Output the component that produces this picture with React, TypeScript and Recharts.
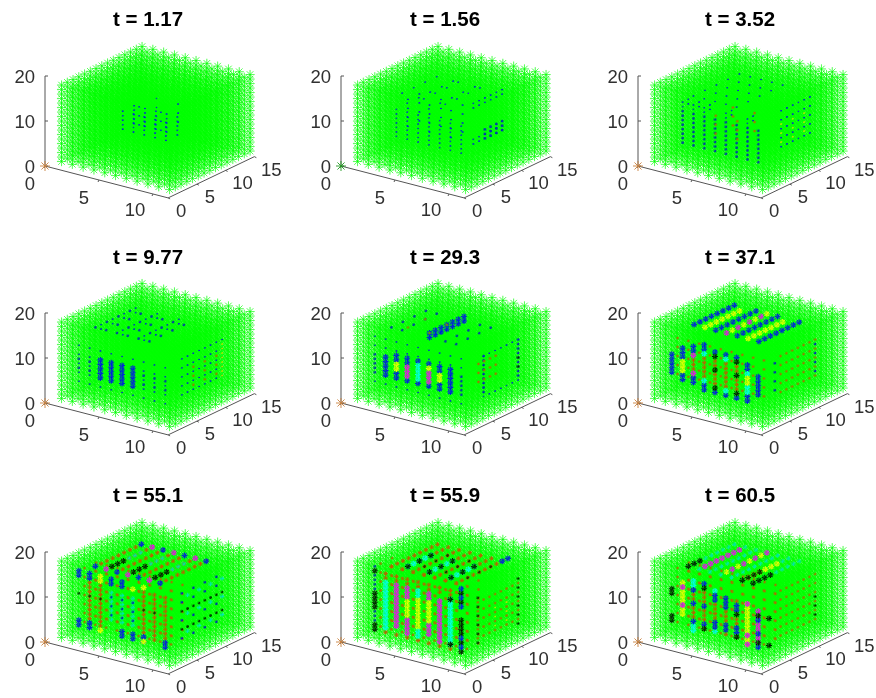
import React from 'react';
import { ScatterChart, Scatter, XAxis, YAxis, ReferenceLine } from 'recharts';

// lattice of the simulated volume
const xGrid = [1, 2, 3, 4, 5, 6, 7, 8, 9, 10, 11];
const yGrid = [1, 2, 3, 4, 5, 6, 7, 8, 9, 10, 11, 12, 13, 14, 15];
const zGrid = [1, 2, 3, 4, 5, 6, 7, 8, 9, 10, 11, 12, 13, 14, 15, 16, 17, 18];

const xTicks = [0, 5, 10];
const yTicks = [0, 5, 10, 15];
const zTicks = [0, 10, 20];
const xEnd = 11.4;
const yEnd = 15;
const zEnd = 20;

const times = ['1.17', '1.56', '3.52', '9.77', '29.3', '37.1', '55.1', '55.9', '60.5'];

// value classes of a lattice node
const FAINT = 0, BLUE = 1, YEL = 2, MAG = 3, CYAN = 4, BLACK = 5, RED = 6, SMALL = 7, FAINTY = 8, GREEN = 9, HAZE = 10, SBLACK = 11, SCYAN = 12;

type Block = [number[], number[], number[], number];

const t1: Block[] = [
  [[4, 5, 6, 7, 8], [6, 8], [7, 8, 9, 10, 11], FAINT],
  [[5, 7], [7, 10], [8, 10, 12], FAINT],
];
const t2: Block[] = [
  [[3, 4, 5, 6, 7, 8, 9], [4], [6, 7, 8, 9, 10, 11, 12], FAINT],
  [[3, 5, 7], [6, 8], [7, 9, 11, 13], FAINT],
  [[4, 6], [4, 6, 8, 10, 12], [14], FAINT],
  [[3, 5, 7], [5, 7, 9, 11], [15], FAINT],
  [[8], [8, 9, 10, 11, 12, 13], [5, 6, 13, 14], FAINT],
  [[8], [10, 11, 12, 13], [5, 6, 7], SMALL],
];
const t3: Block[] = [
  [[2, 3, 4, 5, 6, 7, 8, 9], [4], [4, 5, 6, 7, 8, 9, 10, 11], SMALL],
  [[2, 3, 4, 6, 8], [4, 5], [12, 13], FAINT],
  [[3, 4, 5, 6, 7], [4, 6, 8, 10, 12], [15], FAINT],
  [[9], [8, 9, 10, 11, 12, 13], [5, 7, 9, 11, 13], FAINT],
  [[9], [8, 10, 12], [6, 8, 10], FAINTY],
  [[4, 6], [6, 9], [6, 8, 10], HAZE],
];
const t4: Block[] = [
  [[1, 2, 3, 4, 5, 6, 7, 8, 9], [4], [3, 5, 7, 9, 11], FAINT],
  [[1, 2, 3, 7, 8, 9], [4], [6, 8], SMALL],
  [[3, 4, 5, 6], [4], [5, 6, 7, 8, 9], BLUE],
  [[2, 3, 4, 5, 6, 7], [5, 7, 9, 11], [15], SMALL],
  [[2, 4, 6], [6, 8, 10, 12], [15, 14], FAINT],
  [[10], [5, 6, 7, 8, 9, 10, 11, 12], [5, 7, 9, 11, 13], FAINT],
  [[10], [7, 9, 11], [6, 8, 10], HAZE],
  [[10], [12], [5, 6, 7, 8, 9, 10, 11, 12], FAINTY],
];
const t5: Block[] = [
  [[1, 2, 3, 4, 5, 6, 7, 8, 9], [4], [3, 11, 13], FAINT],
  [[1, 9], [4], [5, 6, 7, 8, 9], SMALL],
  [[2], [4], [5, 6, 7, 8, 9], BLUE],
  [[3], [4], [5, 6, 9, 10], BLUE],
  [[3], [4], [7, 8], YEL],
  [[4], [4], [5, 9, 10], BLUE],
  [[4], [4], [6, 7, 8], MAG],
  [[5], [4], [5, 10], BLUE],
  [[5], [4], [6, 7, 8, 9], CYAN],
  [[6], [4], [5, 10], BLUE],
  [[6], [4], [6, 7, 8], MAG],
  [[6], [4], [9], YEL],
  [[7], [4], [5, 6, 9, 10], BLUE],
  [[7], [4], [7, 8], YEL],
  [[8], [4], [5, 6, 7, 8, 9, 10], BLUE],
  [[5], [6, 7, 8, 9, 10, 11, 12], [15, 14], BLUE],
  [[2, 3, 7, 8], [5, 7, 9, 11], [15], SMALL],
  [[3, 5], [6, 9], [15], HAZE],
  [[10], [6, 12], [5, 6, 7, 8, 9, 10, 11, 12, 13], SMALL],
  [[10], [6, 7, 8, 9, 10, 11, 12], [4, 13], FAINT],
  [[10], [12], [7, 9], SBLACK],
  [[9], [7, 8, 9, 10], [6, 8, 10], HAZE],
];
const t6: Block[] = [
  [[10], [6, 7, 8, 9, 10, 11, 12], [5, 7, 9, 11, 13], HAZE],
  [[10], [5, 12], [6, 8, 10, 12], SMALL],
  [[1, 2, 3, 4, 5, 6, 7, 8, 9], [5], [4, 6, 8, 10, 12], HAZE],
  [[3, 4, 5, 6, 7], [4], [5, 6, 7, 8, 9, 10], RED],
  [[1], [4], [5, 6, 7, 8, 9], BLUE],
  [[2], [4], [4, 5, 9, 10, 11], BLUE],
  [[2], [4], [6, 7, 8], YEL],
  [[3], [4], [4, 5, 11, 12], BLUE],
  [[3], [4], [6, 10], MAG],
  [[4], [4], [3, 4, 12, 13], BLUE],
  [[4], [4], [5, 11], CYAN],
  [[5], [4], [3, 12], BLUE],
  [[5], [4], [4, 8, 11], BLACK],
  [[6], [4], [3, 12], BLUE],
  [[6], [4], [4, 11], CYAN],
  [[7], [4], [3, 12], BLUE],
  [[7], [4], [4, 8, 11], BLACK],
  [[8], [4], [3, 4, 10, 11], BLUE],
  [[8], [4], [5, 6, 9], CYAN],
  [[8], [4], [7, 8], YEL],
  [[9], [4], [5, 6, 7, 8, 9], BLUE],
  [[2, 4, 6, 8], [6, 7, 8, 9, 10, 11, 12, 13], [15], BLUE],
  [[3, 7], [6, 7, 8, 9, 10, 11, 12], [15], YEL],
  [[5], [6, 8, 10, 12], [15], MAG],
  [[5], [7, 9, 11, 13], [15], YEL],
];
const t7: Block[] = [
  [[1, 2, 3, 4, 5, 6, 7, 8, 9], [5, 7], [2, 4, 6, 8, 10, 12, 14], HAZE],
  [[10], [5, 6, 7, 8, 9, 10, 11, 12], [6, 10], SBLACK],
  [[10], [5, 7, 9, 11], [4, 8, 12, 14], SMALL],
  [[10], [6, 8, 10, 12], [5, 9, 13], SCYAN],
  [[2, 3, 7, 8, 9], [4], [3, 4, 5, 6, 7, 8, 9, 10, 11, 12, 13], RED],
  [[4, 5, 6], [4], [5, 6, 7, 8, 9, 10, 11], SCYAN],
  [[4, 5, 6], [4], [6, 8, 10], SMALL],
  [[1, 2, 5, 6, 7, 9], [4], [2, 3], BLUE],
  [[1, 2, 4, 5], [4], [13, 14], BLUE],
  [[1, 2, 3, 7, 8], [4], [9], SBLACK],
  [[3, 7], [4], [2, 14], YEL],
  [[2, 3, 4, 5, 6, 7, 8], [5, 6, 7, 8, 9, 10, 11, 12, 13], [15], RED],
  [[3, 5, 7], [6, 7, 8], [15], BLACK],
  [[3, 5, 7], [9, 10, 11], [15], SCYAN],
  [[2, 4, 6, 8], [5, 13], [15], BLUE],
  [[3, 5, 7], [5, 13], [15], MAG],
  [[3, 6], [4], [13], YEL],
];
const t8: Block[] = [
  [[1, 2, 3, 4, 5, 6, 7, 8, 9], [5, 7], [1, 3, 5, 7, 9, 11, 13, 15], HAZE],
  [[10], [5, 6, 7, 8, 9, 10, 11, 12], [4, 6, 8, 10, 12], HAZE],
  [[10], [8, 10], [5, 7, 9], FAINTY],
  [[10], [5, 12], [3, 5, 7, 9, 11, 13], SBLACK],
  [[2, 3, 4, 5, 6, 7, 8], [4], [1, 13, 14], RED],
  [[1], [4], [1, 2, 6, 7, 8, 9, 14], BLACK],
  [[1], [4], [3, 4, 5, 10, 11, 12, 13, 15], SMALL],
  [[2], [4], [2, 3, 4, 5, 6, 7, 8, 9, 10, 11, 12], CYAN],
  [[3], [4], [3, 4, 5, 6, 7, 8, 9, 10, 11, 12], MAG],
  [[4], [4], [2, 3, 4, 5, 10, 11, 12], MAG],
  [[4], [4], [6, 7, 8, 9], YEL],
  [[5], [4], [4, 5, 6, 7, 8, 9, 10], YEL],
  [[5], [4], [2, 3, 11, 12], CYAN],
  [[6], [4], [3, 4, 5, 11, 12], MAG],
  [[6], [4], [6, 7, 8, 9, 10], YEL],
  [[7], [4], [2, 3, 4, 5, 6, 7, 8, 9, 10, 11], MAG],
  [[8], [4], [2, 3, 4, 5, 6, 7, 8, 9, 10, 11, 12], CYAN],
  [[8], [4], [2, 12], BLACK],
  [[9], [4], [1, 3, 5, 6, 7, 8, 12, 14], BLACK],
  [[9], [4], [2, 4, 11, 13, 15], BLUE],
  [[2, 3, 4, 5, 6, 7, 8], [5, 6, 7, 8, 9, 10, 11, 12, 13], [15], RED],
  [[3, 5, 7], [6, 7, 8, 9, 10], [15], CYAN],
  [[3, 5, 7], [6, 8, 10], [15], BLACK],
  [[4, 6, 8], [7, 9, 11], [15], SBLACK],
  [[8], [13, 14], [15], BLUE],
];
const t9: Block[] = [
  [[1, 2, 3, 4, 5, 6, 7, 8, 9], [5, 7], [2, 4, 6, 8, 10, 12, 14], HAZE],
  [[10], [5, 6, 7, 8, 9, 10, 11, 12], [4, 6, 8, 10, 12, 14], HAZE],
  [[10], [12], [5, 7, 9], SBLACK],
  [[3, 4, 5, 6, 7], [4], [3, 4, 5, 6, 7, 8, 9, 10, 11], RED],
  [[1], [4], [3, 10, 4, 9], BLACK],
  [[2], [4], [5, 6, 7, 8, 9, 10, 11, 12], YEL],
  [[2], [4], [7, 11], MAG],
  [[3], [4], [2, 3, 12, 13], CYAN],
  [[3], [4], [4, 8, 11], BLUE],
  [[4], [4], [4, 8, 13], BLUE],
  [[4], [4], [3, 12], BLACK],
  [[5], [4], [3, 12], CYAN],
  [[5], [4], [4, 5, 10, 11], BLUE],
  [[6], [4], [4, 5, 9, 10, 11], BLUE],
  [[7], [4], [4, 5, 9, 10], BLUE],
  [[7], [4], [3, 8], BLACK],
  [[8], [4], [2, 3, 4, 5, 6, 7, 8, 9, 10, 11], YEL],
  [[8], [4], [2, 4, 11], MAG],
  [[9], [4], [3, 4, 5, 6, 7, 8, 9, 10], MAG],
  [[9], [4], [2, 5, 8], BLUE],
  [[9, 10], [4], [3, 9], BLACK],
  [[2, 3, 4, 5, 6, 7, 8], [5, 6, 7, 8, 9, 10, 11, 12, 13], [15], SCYAN],
  [[3], [6, 7, 8, 9, 10, 11, 12], [15], MAG],
  [[5], [6, 8, 10, 12], [15], YEL],
  [[5], [7, 9, 11, 13], [15], MAG],
  [[7], [6, 7, 8, 9, 10, 11], [15], YEL],
  [[2], [5, 6, 7], [15], BLACK],
  [[7, 8], [5, 6, 7, 8], [15], BLACK],
];
const panelBlocks = [t1, t2, t3, t4, t5, t6, t7, t8, t9];
const originClass = [RED, GREEN, RED, RED, RED, RED, RED, RED, RED];

// view of the 3-D axes
const viewXU = 10.8, viewYU = 5.75, viewXV = 2.8, viewYV = -2.75, viewZV = -4.5;
const project = (x: number, y: number, z: number) => ({
  u: viewXU * x + viewYU * y,
  v: viewXV * x + viewYV * y + viewZV * z,
});

const W = 292, H = 222, OX = 45, OY = 166;
const colLeft = [0, 296, 593];
const rowTop = [0, 237, 476];
const titleCx = [148, 445, 740];
const titleY = [19, 257, 495];

const classColor = ['#0000ff', '#0000ff', '#ffff00', '#ff00ff', '#00ffff', '#000000', '#ff2a00', '#0000e0', '#d8e000', '#1f9a1f', '#c85a00', '#000000', '#00e0e0'];
const classR = [0.7, 3, 3, 3, 3, 3, 2.2, 1.4, 0.9, 3, 1.5, 1.5, 2.2];
const classW = [0.9, 1.1, 1.2, 1.2, 1.2, 1.1, 0.9, 0.9, 0.9, 0.9, 0.7, 0.8, 0.9];

const star = (cx: number, cy: number, r: number) => {
  const d = r * 0.7071;
  return `M${cx - r} ${cy}L${cx + r} ${cy}M${cx} ${cy - r}L${cx} ${cy + r}M${cx - d} ${cy - d}L${cx + d} ${cy + d}M${cx - d} ${cy + d}L${cx + d} ${cy - d}`;
};

const GreenStar = (p: any) => <path d={star(p.cx, p.cy, 4.6)} stroke="#00ff00" strokeWidth={0.6} fill="none" />;
const FrontStar = (p: any) => <path d={star(p.cx, p.cy, 4.6)} stroke="#00ff00" strokeWidth={0.5} strokeOpacity={0.35} fill="none" />;
const ClassStar = (p: any) => {
  const k = p.payload.k;
  return <path d={star(p.cx, p.cy, classR[k])} stroke={classColor[k]} strokeWidth={classW[k]} fill="none" />;
};
const OriginStar = (p: any) => {
  const green = p.payload.k === GREEN;
  return <path d={star(p.cx, p.cy, 5)} stroke={green ? '#1f9a1f' : '#c8813e'} strokeWidth={0.9} fill="none" />;
};
const TickText = (p: any) => (
  <text x={p.cx + p.payload.dx} y={p.cy + p.payload.dy} textAnchor={p.payload.a} dominantBaseline="central"
    fontFamily="'Liberation Sans', Arial, sans-serif" fontSize={18.5} fill="#303030">{p.payload.s}</text>
);

const lattice: { u: number; v: number }[] = [];
const front: { u: number; v: number }[] = [];
xGrid.forEach((x) => yGrid.forEach((y) => zGrid.forEach((z) => {
  const q = project(x, y, z);
  lattice.push(q);
  if (y <= 2 || x === 11 || z >= 17) front.push(q);
})));

const expand = (blocks: Block[]) => {
  const out: { u: number; v: number; k: number }[] = [];
  blocks.forEach(([xs, ys, zs, k]) => xs.forEach((x) => ys.forEach((y) => zs.forEach((z) => out.push({ ...project(x, y, z), k })))));
  return out;
};

const tickLabels = [
  ...zTicks.map((t) => ({ ...project(0, 0, t), s: String(t), dx: -10, dy: 0, a: 'end' })),
  ...xTicks.map((t) => ({ ...project(t, 0, 0), s: String(t), dx: t === 10 ? -18 : -15, dy: t === 10 ? 15 : 17, a: 'middle' })),
  ...yTicks.map((t) => ({ ...project(xEnd, t, 0), s: String(t), dx: t > 5 ? 17 : 13, dy: 12.5, a: 'middle' })),
];

const AXIS = '#555555';

function Panel({ index }: { index: number }) {
  const row = Math.floor(index / 3), col = index % 3;
  const marks = expand(panelBlocks[index]);
  const a0 = project(0, 0, 0), aX = project(xEnd, 0, 0), aY = project(xEnd, yEnd, 0), aZ = project(0, 0, zEnd);
  const seg = (a: { u: number; v: number }, b: { u: number; v: number }, key: string) => (
    <ReferenceLine key={key} segment={[{ x: a.u, y: a.v }, { x: b.u, y: b.v }]} stroke={AXIS} strokeWidth={1} ifOverflow="visible" />
  );
  return (
    <div style={{ position: 'absolute', left: colLeft[col], top: rowTop[row], width: W, height: H }}>
      <ScatterChart width={W} height={H} margin={{ top: 0, right: 0, bottom: 0, left: 0 }}>
        <XAxis hide type="number" dataKey="u" domain={[-OX, W - OX]} />
        <YAxis hide type="number" dataKey="v" domain={[-OY, H - OY]} reversed />
        {seg(a0, aX, 'ax')}
        {seg(aX, aY, 'ay')}
        {seg(a0, aZ, 'az')}
        {zTicks.map((t) => seg(project(0, 0, t), { u: project(0, 0, t).u + 3, v: project(0, 0, t).v }, `zt${t}`))}
        {xTicks.map((t) => seg(project(t, 0, 0), { u: project(t, 0, 0).u - 1, v: project(t, 0, 0).v + 2 }, `xt${t}`))}
        {yTicks.map((t) => seg(project(xEnd, t, 0), { u: project(xEnd, t, 0).u + 2, v: project(xEnd, t, 0).v + 1 }, `yt${t}`))}
        <Scatter data={lattice} shape={GreenStar} isAnimationActive={false} />
        <Scatter data={marks} shape={ClassStar} isAnimationActive={false} />
        <Scatter data={front} shape={FrontStar} isAnimationActive={false} />
        <Scatter data={[{ ...project(0, 0, 0), k: originClass[index] }]} shape={OriginStar} isAnimationActive={false} />
        <Scatter data={tickLabels} shape={TickText} isAnimationActive={false} />
      </ScatterChart>
    </div>
  );
}

export default function App() {
  return (
    <div style={{ position: 'absolute', left: 0, top: 0, width: 876, height: 698, background: '#fff', overflow: 'hidden' }}>
      <div style={{ position: 'absolute', inset: 0, filter: 'blur(0.4px)' }}>
        {times.map((_, i) => <Panel key={i} index={i} />)}
        {times.map((t, i) => (
          <div key={t} style={{
            position: 'absolute', left: titleCx[i % 3] - 100, width: 200, top: titleY[Math.floor(i / 3)] - 12, height: 24, lineHeight: '24px',
            textAlign: 'center', fontFamily: "'Liberation Sans', Arial, sans-serif", fontWeight: 700, fontSize: 20.5, color: '#000',
          }}>{`t = ${t}`}</div>
        ))}
      </div>
    </div>
  );
}
